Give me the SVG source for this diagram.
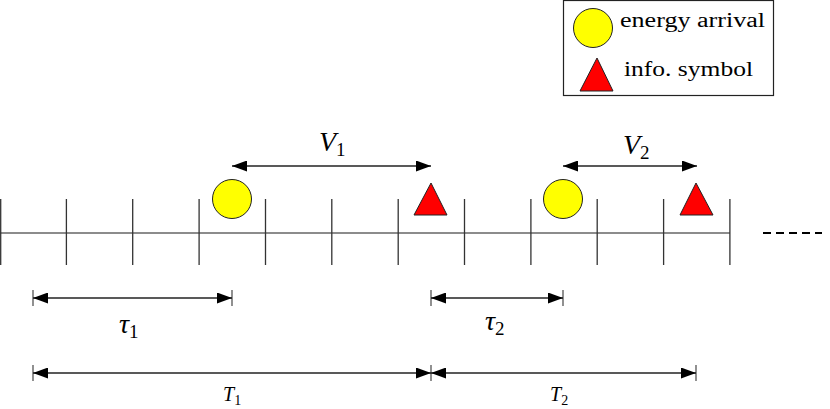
<svg xmlns="http://www.w3.org/2000/svg" width="830" height="409" viewBox="0 0 830 409">
<defs>
<marker id="ah" viewBox="0 0 15 11" refX="15" refY="5.5" markerWidth="15" markerHeight="11" markerUnits="userSpaceOnUse" orient="auto-start-reverse">
<path d="M0,0 L15,5.5 L0,11 z" fill="#000"/>
</marker>
</defs>
<style>
.tick{stroke:#333;stroke-width:1.3}
.axis{stroke:#666;stroke-width:1.5}
.arr{stroke:#222;stroke-width:1.3;fill:none;marker-start:url(#ah);marker-end:url(#ah)}
.bar{stroke:#555;stroke-width:1.3}
.circ{fill:#ffff00;stroke:#222;stroke-width:1}
.tri{fill:#ff0000;stroke:#222;stroke-width:1}
</style>
<rect width="830" height="409" fill="#fff"/>
<g id="timeline">
<line class="axis" x1="0" y1="233" x2="730" y2="233"/>
<line class="tick" x1="0.7" y1="199" x2="0.7" y2="265"/>
<line class="tick" x1="66.4" y1="199" x2="66.4" y2="265"/>
<line class="tick" x1="132.7" y1="199" x2="132.7" y2="265"/>
<line class="tick" x1="199.1" y1="199" x2="199.1" y2="265"/>
<line class="tick" x1="265.5" y1="199" x2="265.5" y2="265"/>
<line class="tick" x1="331.8" y1="199" x2="331.8" y2="265"/>
<line class="tick" x1="398.2" y1="199" x2="398.2" y2="265"/>
<line class="tick" x1="464.5" y1="199" x2="464.5" y2="265"/>
<line class="tick" x1="530.9" y1="199" x2="530.9" y2="265"/>
<line class="tick" x1="597.2" y1="199" x2="597.2" y2="265"/>
<line class="tick" x1="663.6" y1="199" x2="663.6" y2="265"/>
<line class="tick" x1="729.9" y1="199" x2="729.9" y2="265"/>
<line x1="763" y1="233" x2="822" y2="233" stroke="#000" stroke-width="2" stroke-dasharray="8,5"/>
</g>
<g id="energy1"><circle class="circ" cx="232" cy="199" r="19.5"/></g>
<g id="info1"><polygon class="tri" points="431,183 414,215 447,215"/></g>
<g id="energy2"><circle class="circ" cx="563" cy="199" r="19.5"/></g>
<g id="info2"><polygon class="tri" points="696,183 680,215 713,215"/></g>
<g id="connectors">
<line class="arr" x1="232" y1="166" x2="431" y2="166"/>
<line class="arr" x1="563" y1="166" x2="697" y2="166"/>
<line class="bar" x1="33" y1="290" x2="33" y2="306"/>
<line class="bar" x1="232" y1="290" x2="232" y2="306"/>
<line class="arr" x1="33" y1="298" x2="232" y2="298"/>
<line class="bar" x1="431" y1="290" x2="431" y2="306"/>
<line class="bar" x1="563" y1="290" x2="563" y2="306"/>
<line class="arr" x1="431" y1="298" x2="563" y2="298"/>
<line class="bar" x1="33" y1="365" x2="33" y2="381"/>
<line class="bar" x1="431" y1="365" x2="431" y2="381"/>
<line class="bar" x1="696" y1="365" x2="696" y2="381"/>
<line class="arr" x1="33" y1="373" x2="431" y2="373"/>
<line class="arr" x1="431" y1="373" x2="696" y2="373"/>
</g>
<g id="labels" font-family="Liberation Serif, DejaVu Serif, serif" font-style="italic" fill="#000">
<text x="319" y="151" font-size="28">V<tspan font-style="normal" font-size="19" dy="5">1</tspan></text>
<text x="623" y="154" font-size="28">V<tspan font-style="normal" font-size="19" dy="5">2</tspan></text>
<text x="119" y="333" font-size="28">τ<tspan font-style="normal" font-size="19" dy="5">1</tspan></text>
<text x="485" y="330" font-size="28">τ<tspan font-style="normal" font-size="19" dy="5">2</tspan></text>
<text x="223" y="401" font-size="20">T<tspan font-style="normal" font-size="14" dy="4">1</tspan></text>
<text x="550" y="401" font-size="20">T<tspan font-style="normal" font-size="14" dy="4">2</tspan></text>
</g>
<g id="legend">
<rect x="563.5" y="0.5" width="210" height="95" fill="#fff" stroke="#222" stroke-width="1.2"/>
<circle class="circ" cx="593" cy="28" r="19.5"/>
<polygon class="tri" points="597,58 580,91 613,91"/>
<text x="620" y="27" font-family="Liberation Serif, DejaVu Serif, serif" font-size="20" textLength="145" lengthAdjust="spacingAndGlyphs">energy arrival</text>
<text x="624" y="76" font-family="Liberation Serif, DejaVu Serif, serif" font-size="20" textLength="129" lengthAdjust="spacingAndGlyphs">info. symbol</text>
</g>
</svg>
